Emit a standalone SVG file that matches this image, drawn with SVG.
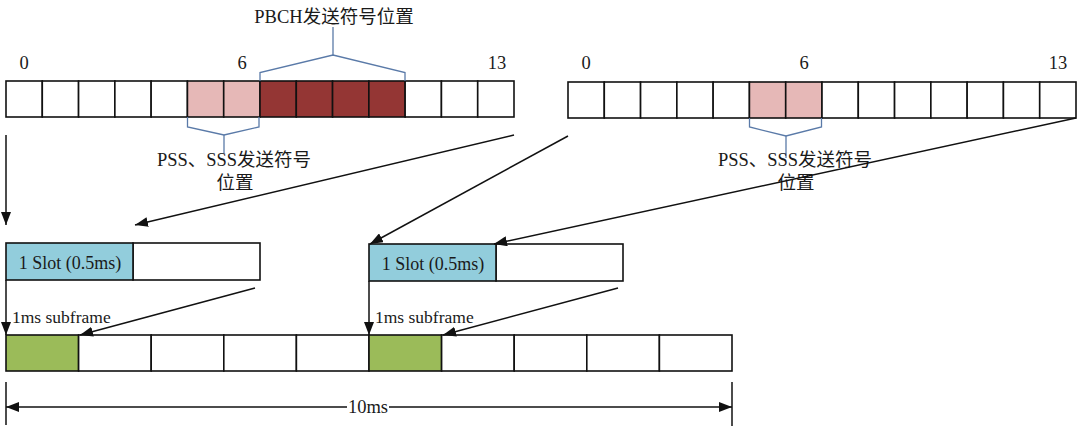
<svg xmlns="http://www.w3.org/2000/svg" width="1080" height="428" viewBox="0 0 1080 428">
<style>
.c{fill:#fff;stroke:#111;stroke-width:1.6}
.p{fill:#e6b8b7;stroke:#111;stroke-width:1.6}
.d{fill:#943634;stroke:#111;stroke-width:1.6}
.s{fill:#92cddc;stroke:#111;stroke-width:1.6}
.g{fill:#9bbb59;stroke:#111;stroke-width:1.6}
.br{fill:none;stroke:#5a7aa8;stroke-width:1.3}
.t{font-family:"Liberation Serif","Noto Sans CJK SC",serif;fill:#1a1a1a}
.ln{fill:none;stroke:#111;stroke-width:1.5}
</style>
<defs>
<marker id="ah" viewBox="0 0 13 10" refX="13" refY="5" markerWidth="13" markerHeight="10" markerUnits="userSpaceOnUse" orient="auto">
<path d="M0,0 L13,5 L0,10 z" fill="#111"/>
</marker>
</defs>
<rect width="1080" height="428" fill="#fff"/>

<g id="row1">
<rect class="c" x="6" y="81" width="36.29" height="36"/>
<rect class="c" x="42.29" y="81" width="36.29" height="36"/>
<rect class="c" x="78.57" y="81" width="36.29" height="36"/>
<rect class="c" x="114.86" y="81" width="36.29" height="36"/>
<rect class="c" x="151.14" y="81" width="36.29" height="36"/>
<rect class="p" x="187.43" y="81" width="36.29" height="36"/>
<rect class="p" x="223.71" y="81" width="36.29" height="36"/>
<rect class="d" x="260" y="81" width="36.29" height="36"/>
<rect class="d" x="296.29" y="81" width="36.29" height="36"/>
<rect class="d" x="332.57" y="81" width="36.29" height="36"/>
<rect class="d" x="368.86" y="81" width="36.29" height="36"/>
<rect class="c" x="405.14" y="81" width="36.29" height="36"/>
<rect class="c" x="441.43" y="81" width="36.29" height="36"/>
<rect class="c" x="477.71" y="81" width="36.29" height="36"/>
<text class="t" x="24" y="69" font-size="18.5" text-anchor="middle">0</text>
<text class="t" x="242" y="69" font-size="18.5" text-anchor="middle">6</text>
<text class="t" x="497" y="69" font-size="18.5" text-anchor="middle">13</text>
</g>

<g id="row2">
<rect class="c" x="568" y="82" width="36.29" height="36"/>
<rect class="c" x="604.29" y="82" width="36.29" height="36"/>
<rect class="c" x="640.57" y="82" width="36.29" height="36"/>
<rect class="c" x="676.86" y="82" width="36.29" height="36"/>
<rect class="c" x="713.14" y="82" width="36.29" height="36"/>
<rect class="p" x="749.43" y="82" width="36.29" height="36"/>
<rect class="p" x="785.71" y="82" width="36.29" height="36"/>
<rect class="c" x="822" y="82" width="36.29" height="36"/>
<rect class="c" x="858.29" y="82" width="36.29" height="36"/>
<rect class="c" x="894.57" y="82" width="36.29" height="36"/>
<rect class="c" x="930.86" y="82" width="36.29" height="36"/>
<rect class="c" x="967.14" y="82" width="36.29" height="36"/>
<rect class="c" x="1003.43" y="82" width="36.29" height="36"/>
<rect class="c" x="1039.71" y="82" width="36.29" height="36"/>
<text class="t" x="586" y="69" font-size="18.5" text-anchor="middle">0</text>
<text class="t" x="804" y="69" font-size="18.5" text-anchor="middle">6</text>
<text class="t" x="1058" y="69" font-size="18.5" text-anchor="middle">13</text>
</g>

<g id="pbch-label">
<polyline class="br" points="260,81 260,72.5 333,55 405,72.5 405,81"/>
<line class="br" x1="333" y1="55" x2="333" y2="27"/>
<text class="t" x="334" y="23" font-size="18.5" text-anchor="middle">PBCH发送符号位置</text>
</g>

<g id="pss-label-1">
<polyline class="br" points="187.5,117 187.5,127 224,135 259,127 259,117"/>
<line class="br" x1="224" y1="135" x2="224" y2="153"/>
<text class="t" x="234" y="166" font-size="18.5" text-anchor="middle">PSS、SSS发送符号</text>
<text class="t" x="235" y="189" font-size="18.5" text-anchor="middle">位置</text>
</g>

<g id="pss-label-2">
<polyline class="br" points="749.5,118 749.5,127 786,136 821.5,127 821.5,118"/>
<line class="br" x1="786" y1="136" x2="786" y2="158"/>
<text class="t" x="795" y="166" font-size="18.5" text-anchor="middle">PSS、SSS发送符号</text>
<text class="t" x="796" y="189" font-size="18.5" text-anchor="middle">位置</text>
</g>

<g id="slot1">
<rect class="c" x="133" y="243" width="127" height="37"/>
<rect class="s" x="6" y="243" width="127" height="37"/>
<text class="t" x="70" y="269" font-size="18" text-anchor="middle">1 Slot (0.5ms)</text>
</g>

<g id="slot2">
<rect class="c" x="496" y="244" width="127" height="37"/>
<rect class="s" x="369" y="244" width="127" height="37"/>
<text class="t" x="433" y="270" font-size="18" text-anchor="middle">1 Slot (0.5ms)</text>
</g>

<g id="frame">
<rect class="g" x="6" y="335" width="72.6" height="36"/>
<rect class="c" x="78.6" y="335" width="72.6" height="36"/>
<rect class="c" x="151.2" y="335" width="72.6" height="36"/>
<rect class="c" x="223.8" y="335" width="72.6" height="36"/>
<rect class="c" x="296.4" y="335" width="72.6" height="36"/>
<rect class="g" x="369" y="335" width="72.6" height="36"/>
<rect class="c" x="441.6" y="335" width="72.6" height="36"/>
<rect class="c" x="514.2" y="335" width="72.6" height="36"/>
<rect class="c" x="586.8" y="335" width="72.6" height="36"/>
<rect class="c" x="659.4" y="335" width="72.6" height="36"/>
<text class="t" x="12" y="323" font-size="17.5">1ms subframe</text>
<text class="t" x="375" y="323" font-size="17.5">1ms subframe</text>
</g>

<g id="connectors">
<path class="ln" d="M6,135 L6,225" marker-end="url(#ah)"/>
<path class="ln" d="M514,135 L135,225" marker-end="url(#ah)"/>
<path class="ln" d="M568,136 L370,244" marker-end="url(#ah)"/>
<path class="ln" d="M1076,118 L494,244" marker-end="url(#ah)"/>
<path class="ln" d="M6,280 L6,335" marker-end="url(#ah)"/>
<path class="ln" d="M369,281 L369,335" marker-end="url(#ah)"/>
<path class="ln" d="M255,288 L80,335" marker-end="url(#ah)"/>
<path class="ln" d="M618,288 L443,335" marker-end="url(#ah)"/>
</g>

<g id="dimension">
<line class="ln" x1="6" y1="382" x2="6" y2="425"/>
<line class="ln" x1="732" y1="382" x2="732" y2="426"/>
<path class="ln" d="M347,407 L6,407" marker-end="url(#ah)"/>
<path class="ln" d="M389,407 L732,407" marker-end="url(#ah)"/>
<text class="t" x="368" y="413" font-size="18.5" text-anchor="middle">10ms</text>
</g>
</svg>
